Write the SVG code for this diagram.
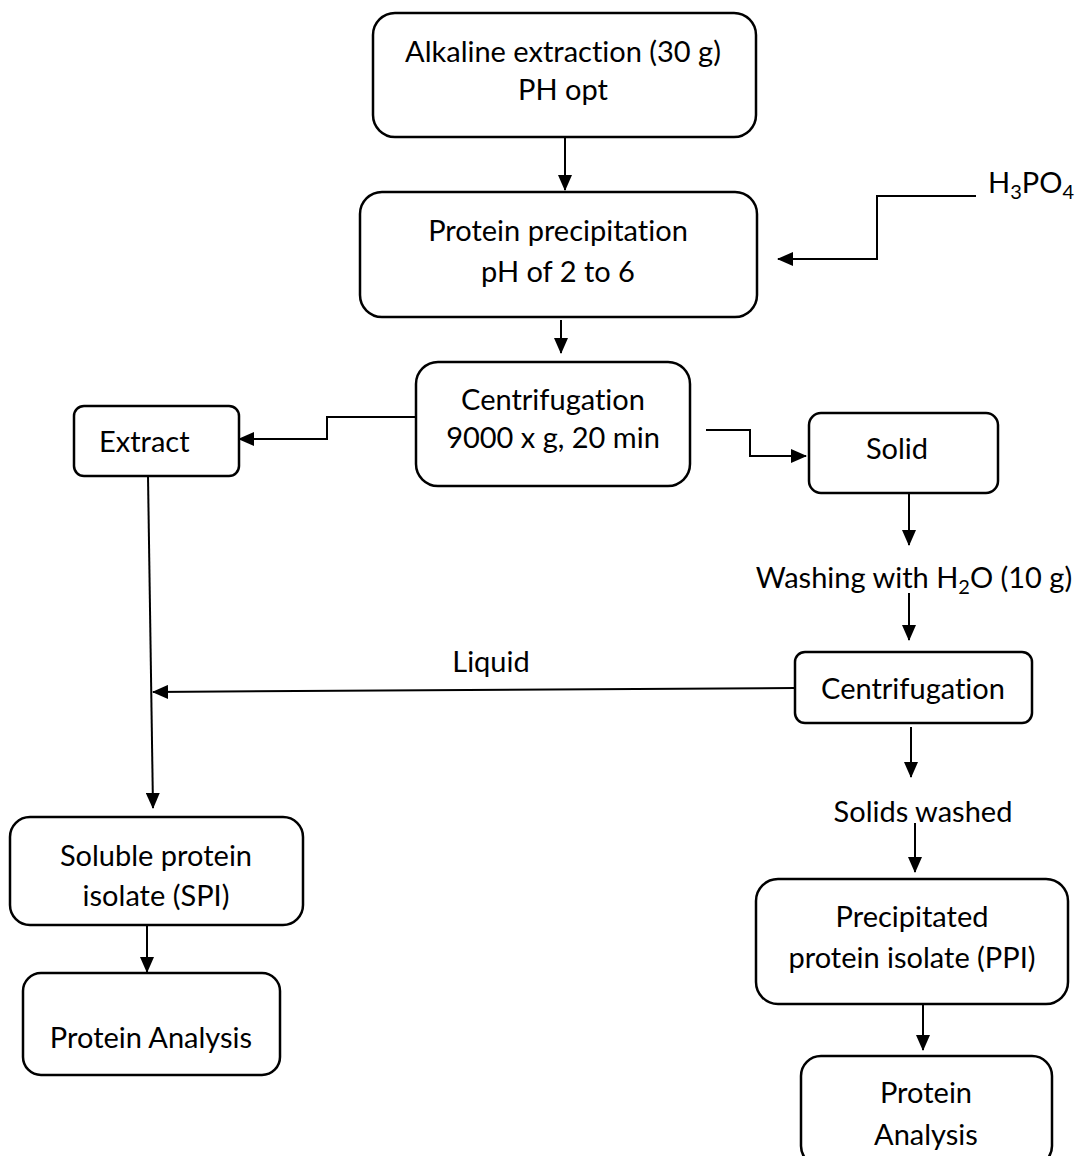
<svg xmlns="http://www.w3.org/2000/svg" width="1077" height="1156" viewBox="0 0 1077 1156">
<style>
.box{fill:#fff;stroke:#000;stroke-width:2.5}
.ln{fill:none;stroke:#000;stroke-width:2}
text{font-family:Lato,"Open Sans",sans-serif;font-size:29px;fill:#000;font-variant-ligatures:none}
.c{text-anchor:middle}
.sub{font-size:20px}
</style>
<defs>
<marker id="ah" markerWidth="16" markerHeight="14" refX="15" refY="7" orient="auto" markerUnits="userSpaceOnUse">
<path d="M0,0 L16,7 L0,14 Z" fill="#000"/>
</marker>
</defs>
<rect width="1077" height="1156" fill="#fff"/>
<g id="connectors">
<line class="ln" x1="565" y1="137" x2="565" y2="190" marker-end="url(#ah)"/>
<polyline class="ln" points="976,196 877,196 877,259 778,259" marker-end="url(#ah)"/>
<line class="ln" x1="561" y1="320" x2="561" y2="353" marker-end="url(#ah)"/>
<polyline class="ln" points="416,417 327,417 327,439 239,439" marker-end="url(#ah)"/>
<polyline class="ln" points="706,430 750,430 750,456 806,456" marker-end="url(#ah)"/>
<line class="ln" x1="909" y1="493" x2="909" y2="545" marker-end="url(#ah)"/>
<line class="ln" x1="909" y1="593" x2="909" y2="640" marker-end="url(#ah)"/>
<line class="ln" x1="795" y1="688" x2="153" y2="692" marker-end="url(#ah)"/>
<line class="ln" x1="148" y1="476" x2="153" y2="808" marker-end="url(#ah)"/>
<line class="ln" x1="911" y1="727" x2="911" y2="777" marker-end="url(#ah)"/>
<line class="ln" x1="915" y1="823" x2="915" y2="872" marker-end="url(#ah)"/>
<line class="ln" x1="923" y1="1005" x2="923" y2="1050" marker-end="url(#ah)"/>
<line class="ln" x1="147" y1="925" x2="147" y2="972" marker-end="url(#ah)"/>
</g>
<g id="n-alkaline">
<rect class="box" x="373" y="13" width="383" height="124" rx="22"/>
<text class="c" x="563" y="62">Alkaline extraction (30 g)</text>
<text class="c" x="563" y="100">PH opt</text>
</g>
<g id="n-h3po4">
<text x="988" y="193">H<tspan class="sub" dy="6">3</tspan><tspan dy="-6">PO</tspan><tspan class="sub" dy="6">4</tspan></text>
</g>
<g id="n-precip">
<rect class="box" x="360" y="192" width="397" height="125" rx="22"/>
<text class="c" x="558" y="241">Protein precipitation</text>
<text class="c" x="558" y="282">pH of 2 to 6</text>
</g>
<g id="n-centrif1">
<rect class="box" x="416" y="362" width="274" height="124" rx="22"/>
<text class="c" x="553" y="410">Centrifugation</text>
<text class="c" x="553" y="448">9000 x g, 20 min</text>
</g>
<g id="n-extract">
<rect class="box" x="74" y="406" width="165" height="70" rx="10"/>
<text x="99" y="452">Extract</text>
</g>
<g id="n-solid">
<rect class="box" x="809" y="413" width="189" height="80" rx="12"/>
<text class="c" x="897" y="459">Solid</text>
</g>
<g id="n-washing">
<text class="c" x="914" y="588">Washing with H<tspan class="sub" dy="6">2</tspan><tspan dy="-6">O (10 g)</tspan></text>
</g>
<g id="n-centrif2">
<rect class="box" x="795" y="652" width="237" height="71" rx="10"/>
<text class="c" x="913" y="699">Centrifugation</text>
</g>
<g id="n-liquid">
<text class="c" x="491" y="672">Liquid</text>
</g>
<g id="n-solidswashed">
<text class="c" x="923" y="822">Solids washed</text>
</g>
<g id="n-ppi">
<rect class="box" x="756" y="879" width="312" height="125" rx="22"/>
<text class="c" x="912" y="927">Precipitated</text>
<text class="c" x="912" y="968">protein isolate (PPI)</text>
</g>
<g id="n-analysis2">
<rect class="box" x="801" y="1056" width="251" height="110" rx="20"/>
<text class="c" x="926" y="1103">Protein</text>
<text class="c" x="926" y="1145">Analysis</text>
</g>
<g id="n-spi">
<rect class="box" x="10" y="817" width="293" height="108" rx="20"/>
<text class="c" x="156" y="866">Soluble protein</text>
<text class="c" x="156" y="906">isolate (SPI)</text>
</g>
<g id="n-analysis1">
<rect class="box" x="23" y="973" width="257" height="102" rx="18"/>
<text class="c" x="151" y="1048">Protein Analysis</text>
</g>
</svg>
